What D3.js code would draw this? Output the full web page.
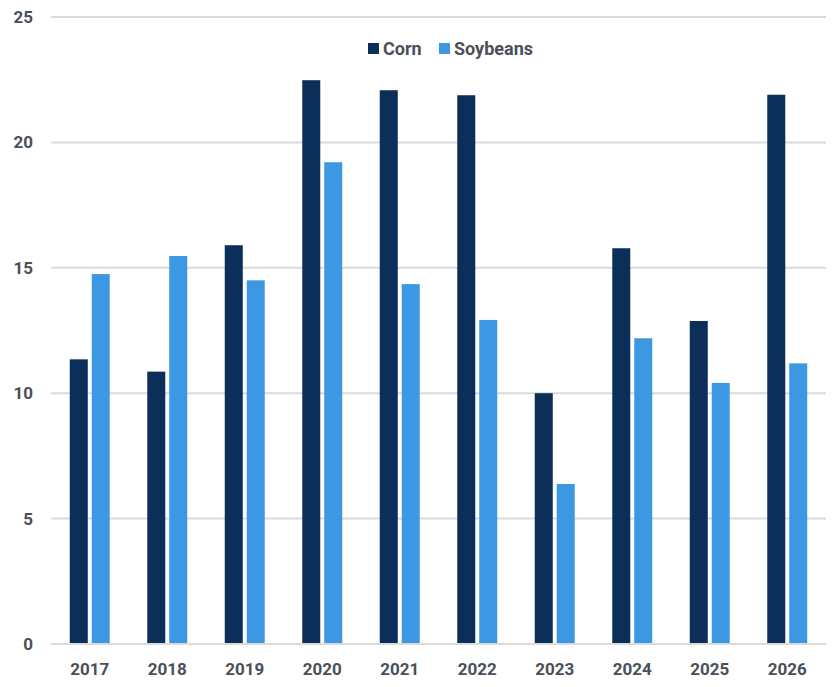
<!DOCTYPE html>
<html>
<head>
<meta charset="utf-8">
<script src="https://cdn.jsdelivr.net/npm/d3@7"></script>
<style>
  body { margin: 0; background: #fff; }
  text { font-family: Roboto, "Noto Sans", sans-serif; font-weight: 700; fill: #4a5059; }
</style>
</head>
<body>
<div id="chart"></div>
<script>
const years = ["2017", "2018", "2019", "2020", "2021", "2022", "2023", "2024", "2025", "2026"];
const series = ["Corn", "Soybeans"];
const corn = [11.35, 10.86, 15.9, 22.48, 22.08, 21.88, 10.0, 15.78, 12.88, 21.9];
const soybeans = [14.75, 15.47, 14.5, 19.21, 14.35, 12.92, 6.38, 12.19, 10.41, 11.19];
const yTicks = [0, 5, 10, 15, 20, 25];

const colors = { Corn: "#0c2f5a", Soybeans: "#3d98e3" };

const width = 837, height = 687;
const margin = { top: 17, right: 11, bottom: 43, left: 51 };

const svg = d3.select("#chart").append("svg")
  .attr("width", width)
  .attr("height", height);

const x0 = d3.scaleBand()
  .domain(years)
  .range([margin.left, width - margin.right])
  .paddingInner(0.484)
  .paddingOuter(0.242);

const x1 = d3.scaleBand()
  .domain(series)
  .range([0, x0.bandwidth()])
  .paddingInner(0.18);

const y = d3.scaleLinear()
  .domain([0, 25])
  .range([height - margin.bottom, margin.top]);

// gridlines
svg.append("g")
  .selectAll("line")
  .data(yTicks)
  .join("line")
  .attr("x1", margin.left)
  .attr("x2", width - margin.right)
  .attr("y1", d => y(d))
  .attr("y2", d => y(d))
  .attr("stroke", "#dadada")
  .attr("stroke-width", 2);

// y labels
svg.append("g")
  .selectAll("text")
  .data(yTicks)
  .join("text")
  .attr("x", 33)
  .attr("y", d => y(d))
  .attr("dy", "0.35em")
  .attr("text-anchor", "end")
  .attr("font-size", 17)
  .text(d => d);

// bars
const rows = years.map((yr, i) => ({ year: yr, values: [
  { key: "Corn", value: corn[i] },
  { key: "Soybeans", value: soybeans[i] }
] }));

svg.append("g")
  .selectAll("g")
  .data(rows)
  .join("g")
  .attr("transform", d => `translate(${x0(d.year)},0)`)
  .selectAll("rect")
  .data(d => d.values)
  .join("rect")
  .attr("x", d => x1(d.key))
  .attr("width", x1.bandwidth())
  .attr("y", d => y(d.value))
  .attr("height", d => y(0) - y(d.value) - 1)
  .attr("fill", d => colors[d.key]);

// x labels
svg.append("g")
  .selectAll("text")
  .data(years)
  .join("text")
  .attr("x", d => x0(d) + x0.bandwidth() / 2)
  .attr("y", 675)
  .attr("text-anchor", "middle")
  .attr("font-size", 17)
  .text(d => d);

// legend
const legendX = [368, 439];
const legend = svg.append("g")
  .selectAll("g")
  .data(series)
  .join("g")
  .attr("transform", (d, i) => `translate(${legendX[i]},43)`);

legend.append("rect")
  .attr("width", 11)
  .attr("height", 11)
  .attr("fill", d => colors[d]);

legend.append("text")
  .attr("x", 15)
  .attr("y", 6)
  .attr("dy", "0.35em")
  .attr("font-size", 18)
  .text(d => d);
</script>
</body>
</html>
